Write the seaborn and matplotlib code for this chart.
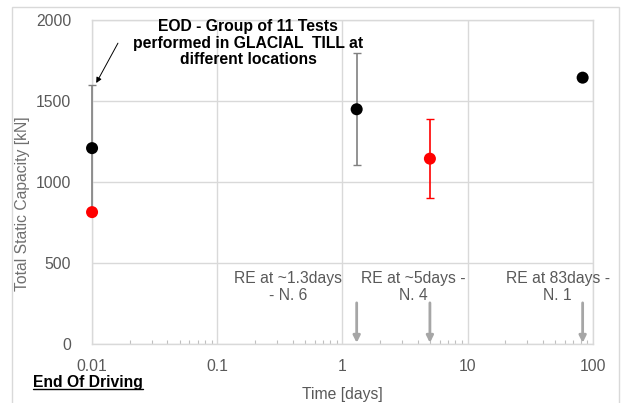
import matplotlib
matplotlib.use("Agg")
import matplotlib.pyplot as plt
import seaborn as sns
import pandas as pd
from matplotlib.patches import Rectangle
from matplotlib.lines import Line2D

# --- data ---
times = [0.01, 0.01, 1.3, 5.0, 83.0]
capacity = [1210, 815, 1450, 1145, 1645]
series = ["black", "red", "black", "red", "black"]
err_low = [820, None, 1105, 903, None]
err_high = [1600, None, 1798, 1387, None]

re_times = [1.3, 5.0, 83.0]
re_labels = ["RE at ~1.3days\n- N. 6", "RE at ~5days -\nN. 4", "RE at 83days -\nN. 1"]
re_label_x = [0.366, 3.7, 52.5]

x_ticks = [0.01, 0.1, 1, 10, 100]
x_ticklabels = ["0.01", "0.1", "1", "10", "100"]
y_ticks = [0, 500, 1000, 1500, 2000]

COLORS = {"black": "#000000", "red": "#ff0000"}
ERR_COLORS = {"black": "#808080", "red": "#ff0000"}
GRID = "#d9d9d9"
TXT = "#595959"
FS = 11.3

sns.set_theme(style="white")
plt.rcParams["font.family"] = ["Liberation Sans", "DejaVu Sans"]

fig = plt.figure(figsize=(6.22, 4.03), dpi=100)
ax = fig.add_axes([0.148, 0.146, 0.805, 0.804])

df = pd.DataFrame({"time": times, "cap": capacity, "series": series,
                   "lo": err_low, "hi": err_high})

# error bars
for _, r in df.dropna().iterrows():
    ax.errorbar(r["time"], r["cap"],
                yerr=[[r["cap"] - r["lo"]], [r["hi"] - r["cap"]]],
                fmt="none", ecolor=ERR_COLORS[r["series"]], elinewidth=1.2,
                capsize=3, capthick=1, zorder=3, clip_on=False)

sns.scatterplot(data=df, x="time", y="cap", hue="series", palette=COLORS,
                s=75, edgecolor="none", legend=False, ax=ax, zorder=4,
                clip_on=False)

ax.set_xscale("log")
ax.set_xlim(0.01, 100)
ax.set_ylim(0, 2000)
ax.set_xticks(x_ticks)
ax.set_xticklabels(x_ticklabels)
ax.set_yticks(y_ticks)
ax.grid(True, which="major", color=GRID, linewidth=1)
ax.tick_params(axis="y", which="major", length=0, labelsize=FS,
               labelcolor=TXT, pad=15)
ax.tick_params(axis="x", which="major", length=0, labelsize=FS,
               labelcolor=TXT, pad=11)
ax.tick_params(axis="x", which="minor", direction="in", length=3,
               color="#bfbfbf", width=0.8, bottom=True)
for sp in ax.spines.values():
    sp.set_color(GRID)
    sp.set_linewidth(1)
ax.set_axisbelow(True)

ax.set_xlabel("Time [days]", fontsize=FS, color=TXT, labelpad=9)
ax.set_ylabel("Total Static Capacity [kN]", fontsize=FS, color="#6f6f6f")
ax.yaxis.set_label_coords(-0.124, 0.435)

# RE arrows and labels
for t, lab, lx in zip(re_times, re_labels, re_label_x):
    ax.annotate("", xy=(t, 8), xytext=(t, 255),
                arrowprops=dict(arrowstyle="-|>", color="#a6a6a6", lw=2,
                                mutation_scale=10, shrinkA=0, shrinkB=0))
    ax.text(lx, 352, lab, ha="center", va="center", fontsize=FS,
            color=TXT, linespacing=1.2, clip_on=False)

# EOD annotation
ax.text(0.176, 1858, "EOD - Group of 11 Tests\nperformed in GLACIAL  TILL at\ndifferent locations",
        ha="center", va="center", fontsize=FS, fontweight="bold",
        color="black", linespacing=1.1)
ax.annotate("", xy=(0.0108, 1612), xytext=(0.0161, 1858),
            arrowprops=dict(arrowstyle="-|>", color="black", lw=0.7,
                            mutation_scale=8, shrinkA=0, shrinkB=0))

# "End Of Driving" underlined
t = fig.text(33 / 622, 1 - 383 / 403, "End Of Driving", fontsize=FS,
             fontweight="bold", color="black", va="center", ha="left")
fig.canvas.draw()
bb = t.get_window_extent().transformed(fig.transFigure.inverted())
fig.add_artist(Line2D([bb.x0, bb.x1], [bb.y0 + 0.004, bb.y0 + 0.004],
                      color="black", lw=1, transform=fig.transFigure))

# outer frame
fig.add_artist(Rectangle((12 / 622, -0.02), 607 / 622, 1 - 7 / 403 + 0.02,
                         transform=fig.transFigure, fill=False,
                         edgecolor="#d9d9d9", lw=1))

fig.savefig("out.png", dpi=100)
